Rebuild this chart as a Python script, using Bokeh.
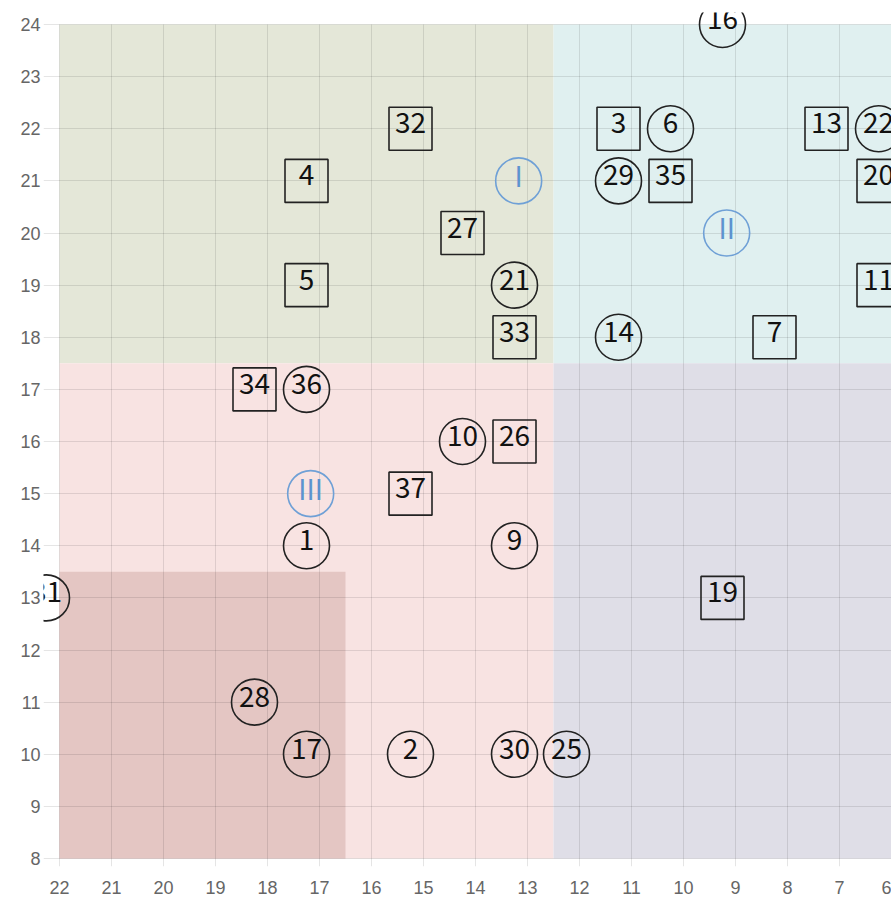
from bokeh.plotting import figure
from bokeh.models import Range1d, FixedTicker
from bokeh.core.properties import value
from bokeh.embed import file_html
from bokeh.resources import INLINE

# ---- data ----
x_ticks = list(range(22, 5, -1))
y_ticks = list(range(8, 25))

zone_left = [22, 12.5, 22, 12.5, 22]
zone_right = [12.5, 6, 12.5, 6, 16.5]
zone_bottom = [17.5, 17.5, 8, 8, 8]
zone_top = [24, 24, 17.5, 17.5, 13.5]
zone_colors = ["#e4e7d8", "#e0f0f0", "#f8e3e2", "#dfdee7", "#e4c6c3"]

square_labels = ["32", "4", "5", "27", "33", "3", "35", "13", "20", "11", "7", "34", "26", "37", "19"]
square_x = [15.25, 17.25, 17.25, 14.25, 13.25, 11.25, 10.25, 7.25, 6.25, 6.25, 8.25, 18.25, 13.25, 15.25, 9.25]
square_y = [22, 21, 19, 20, 18, 22, 21, 22, 21, 19, 18, 17, 16, 15, 13]

circle_labels = ["21", "6", "29", "16", "22", "14", "36", "10", "1", "9", "31", "28", "17", "2", "30", "25"]
circle_x = [13.25, 10.25, 11.25, 9.25, 6.25, 11.25, 17.25, 14.25, 17.25, 13.25, 22.25, 18.25, 17.25, 15.25, 13.25, 12.25]
circle_y = [19, 22, 21, 24, 22, 18, 17, 16, 14, 14, 13, 11, 10, 10, 10, 10]

zone_names = ["I", "II", "III"]
zone_name_x = [13.17, 9.17, 17.17]
zone_name_y = [21, 20, 15]

# ---- layout ----
W, H = 891, 898
BL, BB, BT = 43, 32, 12
frame_w = W - BL
frame_h = H - BB - BT
px_x = 52.0
px_y = 52.125
x_start = 22 + (59 - BL) / px_x
x_end = x_start - frame_w / px_x
y_end = 24 + (24 - BT) / px_y
y_start = y_end - frame_h / px_y

p = figure(width=W, height=H, output_backend="svg", toolbar_location=None,
           x_range=Range1d(x_start, x_end), y_range=Range1d(y_start, y_end),
           min_border_left=BL, min_border_right=0, min_border_top=BT, min_border_bottom=BB)
p.outline_line_color = None
p.background_fill_color = "white"
p.border_fill_color = "white"

p.quad(left=zone_left, right=zone_right, bottom=zone_bottom, top=zone_top,
       fill_color=zone_colors, line_color=None, level="image")

for ax in (p.xaxis[0], p.yaxis[0]):
    ax.axis_line_color = None
    ax.major_tick_line_color = None
    ax.minor_tick_line_color = None
    ax.major_tick_out = 0
    ax.major_tick_in = 0
    ax.major_label_text_font = "Liberation Sans"
    ax.major_label_text_font_size = "18px"
    ax.major_label_text_color = "#666666"
p.xaxis[0].ticker = FixedTicker(ticks=x_ticks)
p.yaxis[0].ticker = FixedTicker(ticks=y_ticks)
p.xaxis[0].major_label_standoff = 14
p.yaxis[0].major_label_standoff = 3

p.xgrid.ticker = FixedTicker(ticks=x_ticks)
p.ygrid.ticker = FixedTicker(ticks=y_ticks)
for g in (p.xgrid[0], p.ygrid[0]):
    g.grid_line_color = "black"
    g.grid_line_alpha = 0.1
    g.grid_line_width = 1
p.xgrid[0].cross_bounds = (y_start, 24)

font = value("Noto Sans CJK JP")

p.scatter(square_x, square_y, marker="square", size=43, fill_color=None,
          line_color="#222222", line_width=1.6)
p.scatter(circle_x, circle_y, marker="circle", size=46, fill_color=None,
          line_color="#222222", line_width=1.6)
p.scatter(zone_name_x, zone_name_y, marker="circle", size=46, fill_color=None,
          line_color="#6fa0d6", line_width=1.6)

p.text(square_x, square_y, text=square_labels, text_font=font, text_font_size="28px",
       text_align="center", text_baseline="middle", y_offset=-6, text_color="#111111")
p.text(circle_x, circle_y, text=circle_labels, text_font=font, text_font_size="28px",
       text_align="center", text_baseline="middle", y_offset=-6, text_color="#111111")
p.text(zone_name_x, zone_name_y, text=zone_names, text_font=font, text_font_size="28px",
       text_align="center", text_baseline="middle", y_offset=-6, text_color="#5d93cf")

open("out.html", "w").write(file_html(p, INLINE))
